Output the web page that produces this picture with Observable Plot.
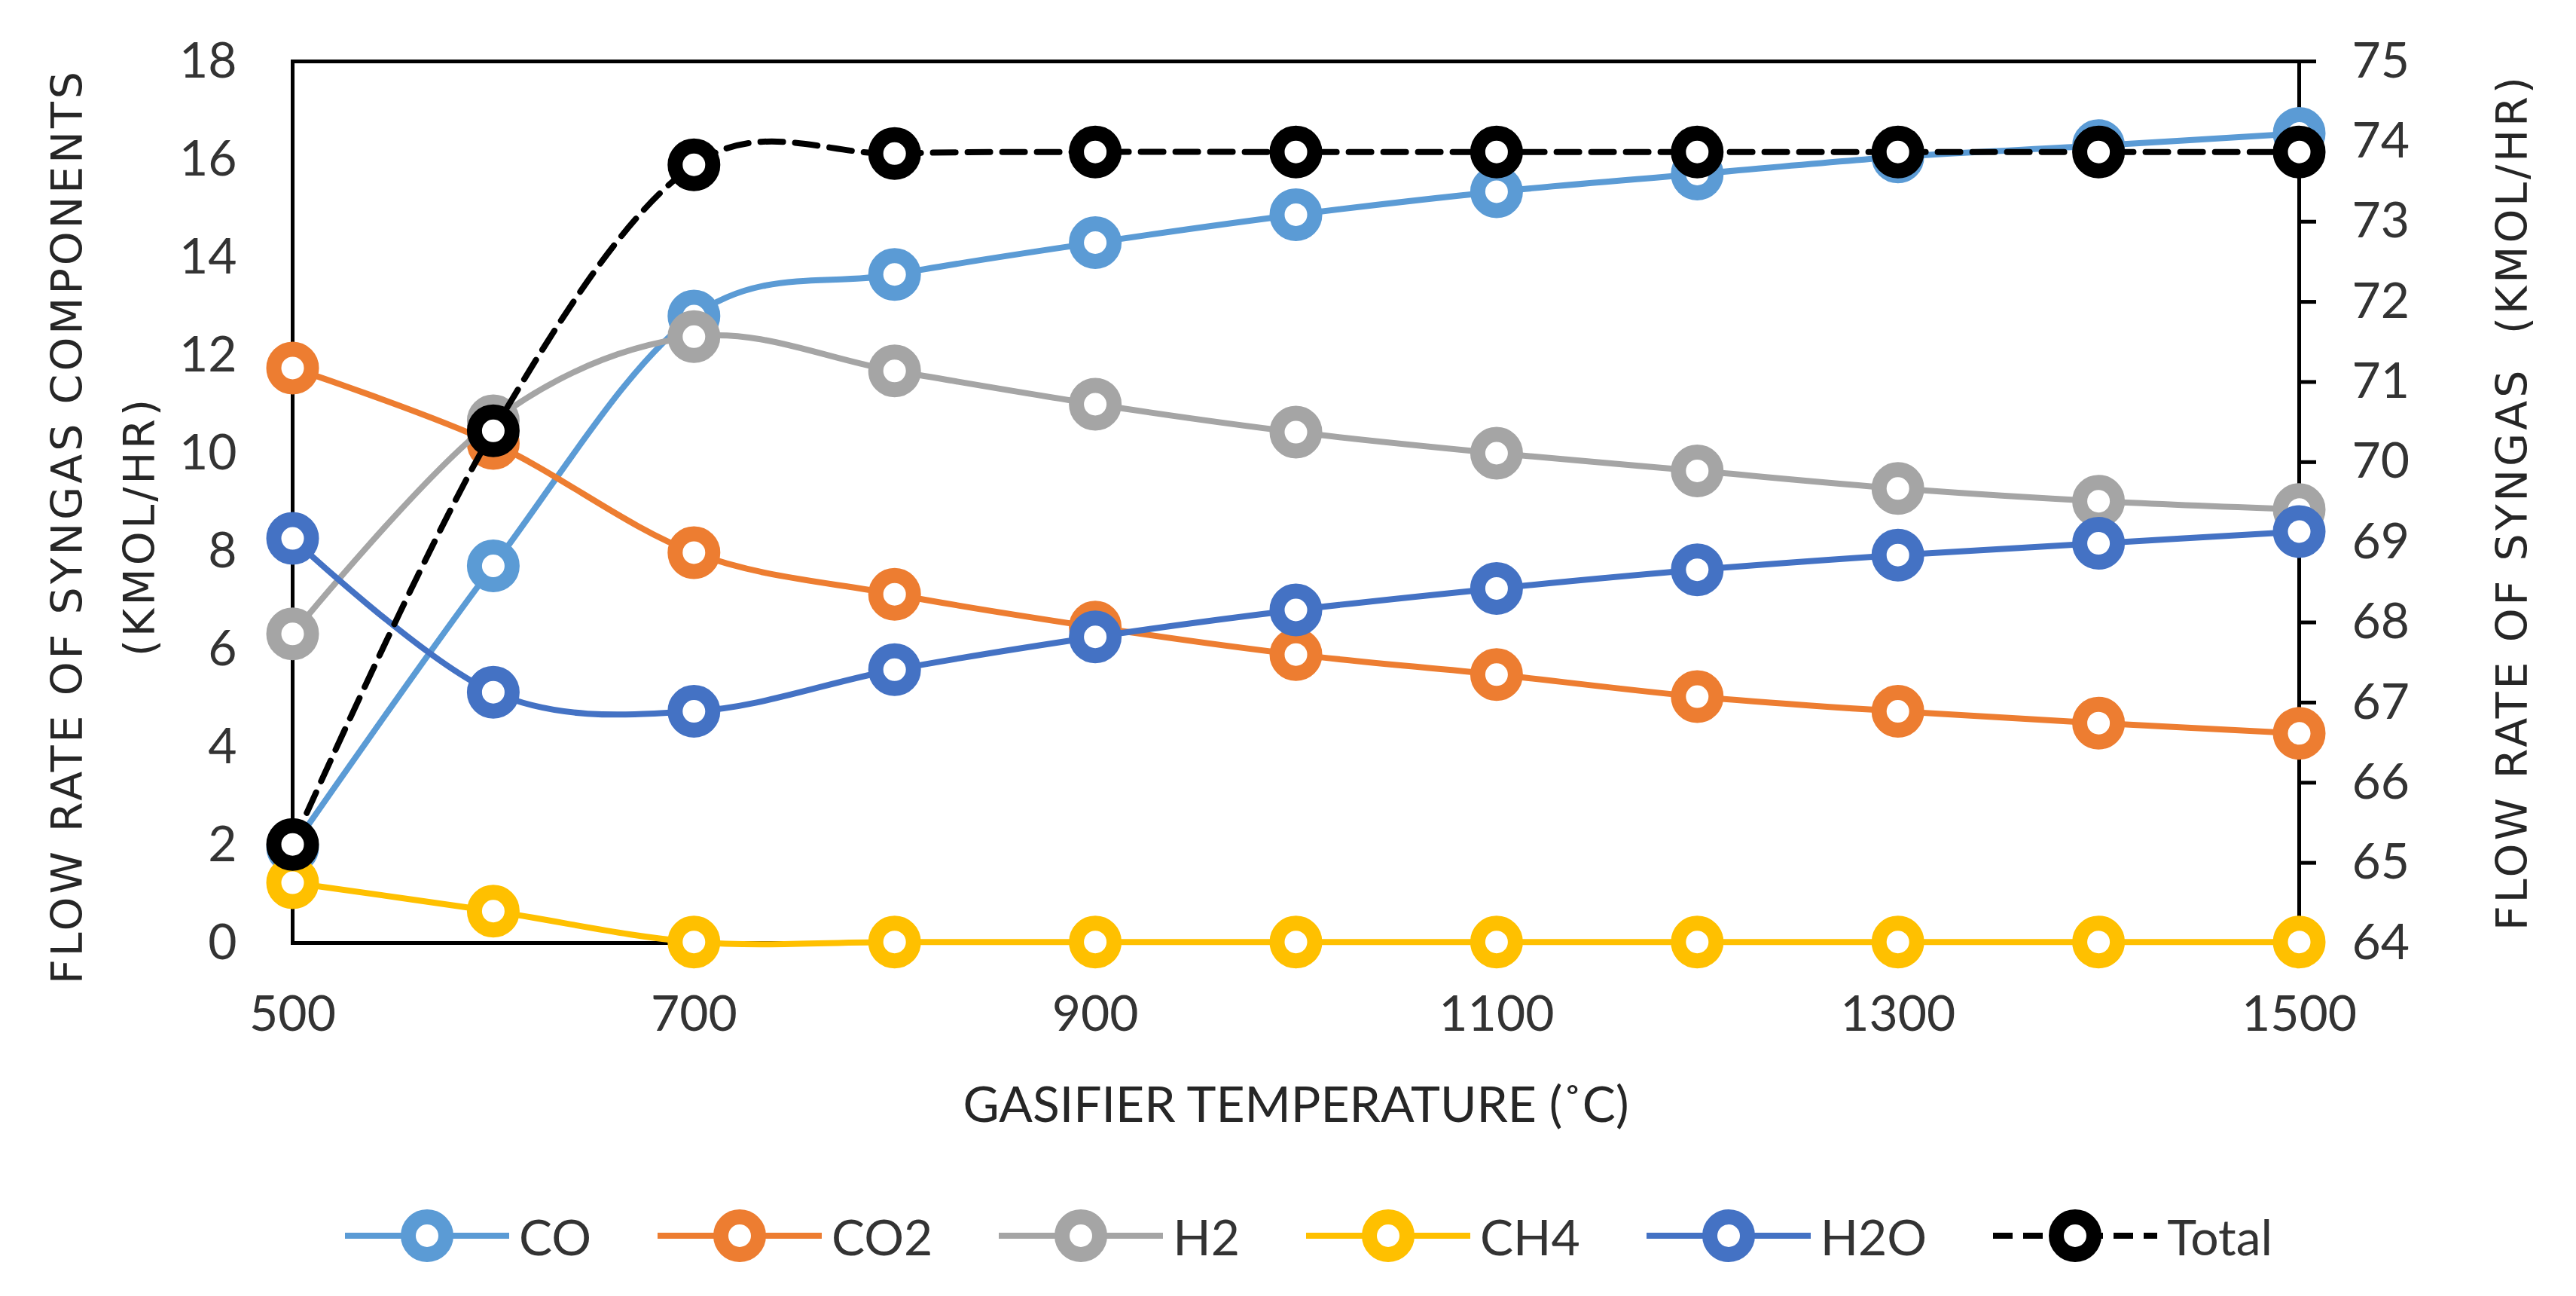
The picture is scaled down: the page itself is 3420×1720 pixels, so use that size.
<!DOCTYPE html>
<html><head><meta charset="utf-8">
<script src="https://cdn.jsdelivr.net/npm/d3@7"></script>
<script src="https://cdn.jsdelivr.net/npm/@observablehq/plot@0.6"></script>
<style>
body{margin:0;background:#fff;}
#wrap{position:relative;width:3420px;height:1720px;background:#fff;}
#legend{position:absolute;left:0;top:1600px;width:3420px;height:80px;display:flex;justify-content:center;align-items:center;gap:88px;font-family:Lato,sans-serif;font-size:66px;color:#333;padding-left:55px;box-sizing:border-box;}
.item{display:flex;align-items:center;}
.item span{margin-left:13px;}
</style></head><body><div id="wrap"><div id="legend"></div></div>
<script>
const temperatures = [500, 600, 700, 800, 900, 1000, 1100, 1200, 1300, 1400, 1500];
const coValues = [1.95, 7.7, 12.8, 13.65, 14.3, 14.87, 15.34, 15.7, 16.05, 16.28, 16.53];
const co2Values = [11.74, 10.2, 7.97, 7.12, 6.45, 5.89, 5.48, 5.03, 4.73, 4.49, 4.28];
const h2Values = [6.31, 10.66, 12.38, 11.68, 11.0, 10.43, 10.0, 9.64, 9.28, 9.02, 8.85];
const ch4Values = [1.23, 0.65, 0.02, 0.02, 0.02, 0.02, 0.02, 0.02, 0.02, 0.02, 0.02];
const h2oValues = [8.26, 5.12, 4.73, 5.58, 6.25, 6.8, 7.24, 7.62, 7.92, 8.16, 8.4];
const totalValues = [65.23, 70.39, 73.71, 73.85, 73.87, 73.87, 73.87, 73.87, 73.87, 73.87, 73.87];
const seriesNames = ["CO", "CO2", "H2", "CH4", "H2O", "Total"];
const seriesColors = ["#5B9BD5", "#ED7D31", "#A5A5A5", "#FFC000", "#4472C4", "#000000"];
const xTicks = [500, 700, 900, 1100, 1300, 1500];
const leftTicks = [0, 2, 4, 6, 8, 10, 12, 14, 16, 18];
const rightTicks = [64, 65, 66, 67, 68, 69, 70, 71, 72, 73, 74, 75];
const leftDomain = [0, 18];
const rightDomain = [64, 75];

const toLeft = v => (v - rightDomain[0]) * (leftDomain[1] - leftDomain[0]) / (rightDomain[1] - rightDomain[0]) + leftDomain[0];
const toRight = v => (v - leftDomain[0]) * (rightDomain[1] - rightDomain[0]) / (leftDomain[1] - leftDomain[0]) + rightDomain[0];

const valuesBySeries = [coValues, co2Values, h2Values, ch4Values, h2oValues, totalValues];
const rows = seriesNames.flatMap((name, s) => temperatures.map((t, i) => ({
  name, t, v: name === "Total" ? toLeft(valuesBySeries[s][i]) : valuesBySeries[s][i]
})));

const seriesMarks = [];
seriesNames.forEach((name, s) => {
  const data = rows.filter(d => d.name === name);
  const lineOpts = {x: "t", y: "v", stroke: seriesColors[s], strokeWidth: 8, curve: "cardinal"};
  if (name === "Total") lineOpts.strokeDasharray = "30,16";
  seriesMarks.push(Plot.line(data, lineOpts));
  seriesMarks.push(Plot.dot(data, {x: "t", y: "v", r: 25, stroke: seriesColors[s], strokeWidth: 20, fill: "white"}));
});

const chart = Plot.plot({
  width: 3420,
  height: 1540,
  marginLeft: 388,
  marginRight: 368,
  marginTop: 81,
  marginBottom: 289,
  x: {domain: [500, 1500]},
  y: {domain: leftDomain},
  style: {fontFamily: "Lato, sans-serif", fontSize: "66px", color: "#333", background: "white", overflow: "visible"},
  marks: [
    Plot.frame({stroke: "black", strokeWidth: 5}),
    Plot.axisX({ticks: xTicks, tickFormat: d => String(d), tickSize: 0, tickPadding: 70, label: null, fontSize: 66, fill: "#333"}),
    Plot.axisY({ticks: leftTicks, tickFormat: d => String(d), tickSize: 0, tickPadding: 74, label: null, fontSize: 66, fill: "#333"}),
    Plot.axisY({anchor: "right", ticks: rightTicks.map(toLeft), tickFormat: d => String(Math.round(toRight(d))),
      tickSize: 22, tickPadding: 48, label: null, stroke: "black", strokeWidth: 5, fontSize: 66, fill: "#333"}),
    Plot.text(["FLOW RATE OF SYNGAS COMPONENTS\n(KMOL/HR)"], {text: d => d, frameAnchor: "left", rotate: -90, dx: -262, dy: 32,
      fontFamily: "DejaVu Sans", fontSize: 57, lineHeight: 1.68, fill: "#262626", textAnchor: "middle", lineAnchor: "middle"}),
    Plot.text(["FLOW RATE OF SYNGAS\u00a0 (KMOL/HR)"], {text: d => d, frameAnchor: "right", rotate: -90, dx: 284, dy: 0,
      fontFamily: "DejaVu Sans", fontSize: 57, fill: "#262626", textAnchor: "middle", lineAnchor: "middle"}),
    Plot.text(["GASIFIER TEMPERATURE (˚C)"], {text: d => d, frameAnchor: "bottom", dy: 216,
      fontFamily: "Lato, sans-serif", fontSize: 66, fill: "#262626", textAnchor: "middle", lineAnchor: "middle"}),
    ...seriesMarks
  ]
});
d3.select(chart).selectAll('g[font-family="DejaVu Sans"] text').attr("letter-spacing", 4);
document.getElementById("wrap").prepend(chart);

const legend = document.getElementById("legend");
const ns = "http://www.w3.org/2000/svg";
seriesNames.forEach((name, s) => {
  const item = document.createElement("div");
  item.className = "item";
  const svg = document.createElementNS(ns, "svg");
  svg.setAttribute("width", 218); svg.setAttribute("height", 80);
  const line = document.createElementNS(ns, "line");
  line.setAttribute("x1", 0); line.setAttribute("x2", 218); line.setAttribute("y1", 40); line.setAttribute("y2", 40);
  line.setAttribute("stroke", seriesColors[s]); line.setAttribute("stroke-width", 8);
  if (name === "Total") line.setAttribute("stroke-dasharray", "26,14");
  const c = document.createElementNS(ns, "circle");
  c.setAttribute("cx", 109); c.setAttribute("cy", 40); c.setAttribute("r", 25);
  c.setAttribute("fill", "white"); c.setAttribute("stroke", seriesColors[s]); c.setAttribute("stroke-width", 20);
  svg.appendChild(line); svg.appendChild(c);
  const label = document.createElement("span");
  label.textContent = name;
  item.appendChild(svg); item.appendChild(label);
  legend.appendChild(item);
});
</script>
</body></html>
